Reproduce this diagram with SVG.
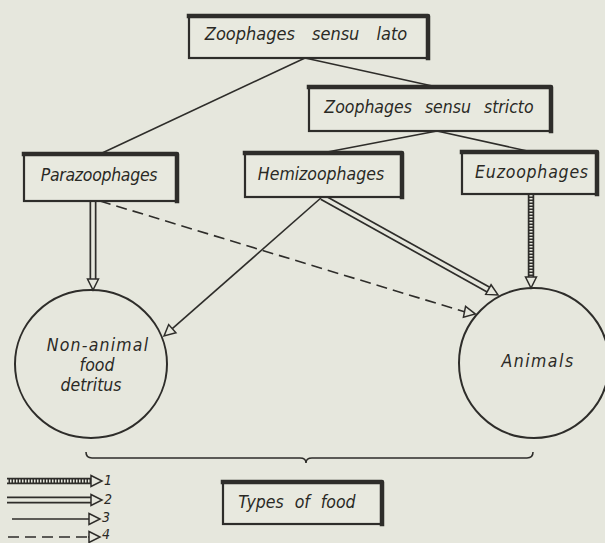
<svg xmlns="http://www.w3.org/2000/svg" width="605" height="543" viewBox="0 0 605 543">
<defs>
<style>
.bg{fill:#e6e7dd}
.box{fill:#e8e9df;stroke:#2e2d2a;stroke-width:2.2}
.edge{fill:none;stroke:#2e2d2a;stroke-width:4.5;stroke-linejoin:round;stroke-linecap:square}
.lbl{font-family:"DejaVu Sans Condensed","DejaVu Sans",sans-serif;font-stretch:condensed;font-style:italic;font-size:17.5px;fill:#2a2925;text-anchor:middle}
.num{font-family:"DejaVu Sans Condensed","DejaVu Sans",sans-serif;font-stretch:condensed;font-style:italic;font-size:14px;fill:#2a2925}
.circ{fill:none;stroke:#2e2d2a;stroke-width:2}
.thin{fill:none;stroke:#2e2d2a;stroke-width:1.6}
.dash{fill:none;stroke:#2e2d2a;stroke-width:1.6;stroke-dasharray:11 6}
.dblo{fill:none;stroke:#2e2d2a;stroke-width:7}
.dbli{fill:none;stroke:#e6e7dd;stroke-width:3.6}
.hato{fill:none;stroke:#2e2d2a;stroke-width:6.5}
.hati{fill:none;stroke:#e6e7dd;stroke-width:3;stroke-dasharray:1.5 1.5}
</style>
<marker id="ah" markerUnits="userSpaceOnUse" markerWidth="14" markerHeight="14" refX="0" refY="0" orient="auto" overflow="visible">
<path d="M0,-5.5 L11,0 L0,5.5 Z" fill="#e6e7dd" stroke="#2e2d2a" stroke-width="1.5" stroke-linejoin="miter"/>
</marker>
</defs>
<rect class="bg" x="0" y="0" width="605" height="543"/>

<g id="connectors">
<line class="thin" x1="305" y1="58" x2="100" y2="154"/>
<line class="thin" x1="305" y1="58" x2="437" y2="87"/>
<line class="thin" x1="437" y1="131" x2="322" y2="153"/>
<line class="thin" x1="437" y1="131" x2="532" y2="152"/>
<line class="dblo" x1="93" y1="201" x2="93" y2="279"/>
<line class="dbli" x1="93" y1="201" x2="93" y2="279" marker-end="url(#ah)"/>
<line class="dash" x1="100" y1="201" x2="464.5" y2="311.8"/>
<line class="thin" x1="464" y1="311.7" x2="464.5" y2="311.8" marker-end="url(#ah)"/>
<line class="thin" x1="322" y1="197" x2="172.3" y2="328.7" marker-end="url(#ah)"/>
<line class="dblo" x1="322" y1="197" x2="488.4" y2="289.6"/>
<line class="dbli" x1="322" y1="197" x2="488.4" y2="289.6" marker-end="url(#ah)"/>
<line class="hato" x1="531" y1="195" x2="531" y2="277"/>
<line class="hati" x1="531" y1="195" x2="531" y2="277" marker-end="url(#ah)"/>
</g>

<g id="lato">
<rect class="box" x="189" y="16" width="239" height="42"/>
<path class="edge" d="M189,16 H428 V58"/>
<text class="lbl" x="306" y="40" style="font-size:18px" word-spacing="12">Zoophages sensu lato</text>
</g>

<g id="stricto">
<rect class="box" x="309" y="87" width="242" height="44"/>
<path class="edge" d="M309,87 H551 V131"/>
<text class="lbl" x="429" y="113" word-spacing="8">Zoophages sensu stricto</text>
</g>

<g id="parazoophages">
<rect class="box" x="24" y="154" width="153" height="47"/>
<path class="edge" d="M24,154 H177 V201"/>
<text class="lbl" x="99" y="181" letter-spacing="-0.3">Parazoophages</text>
</g>

<g id="hemizoophages">
<rect class="box" x="245" y="153" width="157" height="44"/>
<path class="edge" d="M245,153 H402 V197"/>
<text class="lbl" x="321" y="180">Hemizoophages</text>
</g>

<g id="euzoophages">
<rect class="box" x="462" y="152" width="135" height="42"/>
<path class="edge" d="M462,152 H597 V194"/>
<text class="lbl" x="532" y="178" letter-spacing="0.8">Euzoophages</text>
</g>

<g id="nonanimal">
<ellipse class="circ" cx="91" cy="364" rx="76" ry="74"/>
<text class="lbl" x="98" y="351" letter-spacing="1.2">Non-animal</text>
<text class="lbl" x="97" y="371">food</text>
<text class="lbl" x="91" y="391">detritus</text>
</g>

<g id="animals">
<circle class="circ" cx="534" cy="363" r="75"/>
<text class="lbl" x="538" y="367" letter-spacing="1.5">Animals</text>
</g>

<g id="brace">
<path class="thin" d="M86,452 Q86,458 92,458 L300,458 Q306,458 306,463 Q306,458 312,458 L527,458 Q533,458 533,452"/>
</g>

<g id="types">
<rect class="box" x="223" y="482" width="159" height="42"/>
<path class="edge" d="M223,482 H382 V524"/>
<text class="lbl" x="297" y="508" word-spacing="6">Types of food</text>
</g>

<g id="legend">
<line class="hato" x1="7" y1="481" x2="91" y2="481"/>
<line class="hati" x1="7" y1="481" x2="91" y2="481" marker-end="url(#ah)"/>
<text class="num" x="104" y="485">1</text>
<line class="dblo" x1="7" y1="500" x2="91" y2="500"/>
<line class="dbli" x1="7" y1="500" x2="91" y2="500" marker-end="url(#ah)"/>
<text class="num" x="104" y="504">2</text>
<line class="thin" x1="12" y1="519" x2="89" y2="519" marker-end="url(#ah)"/>
<text class="num" x="102" y="522">3</text>
<line class="dash" x1="8" y1="537" x2="89" y2="537"/>
<line class="thin" x1="88" y1="537" x2="89" y2="537" marker-end="url(#ah)"/>
<text class="num" x="102" y="539">4</text>
</g>
</svg>
